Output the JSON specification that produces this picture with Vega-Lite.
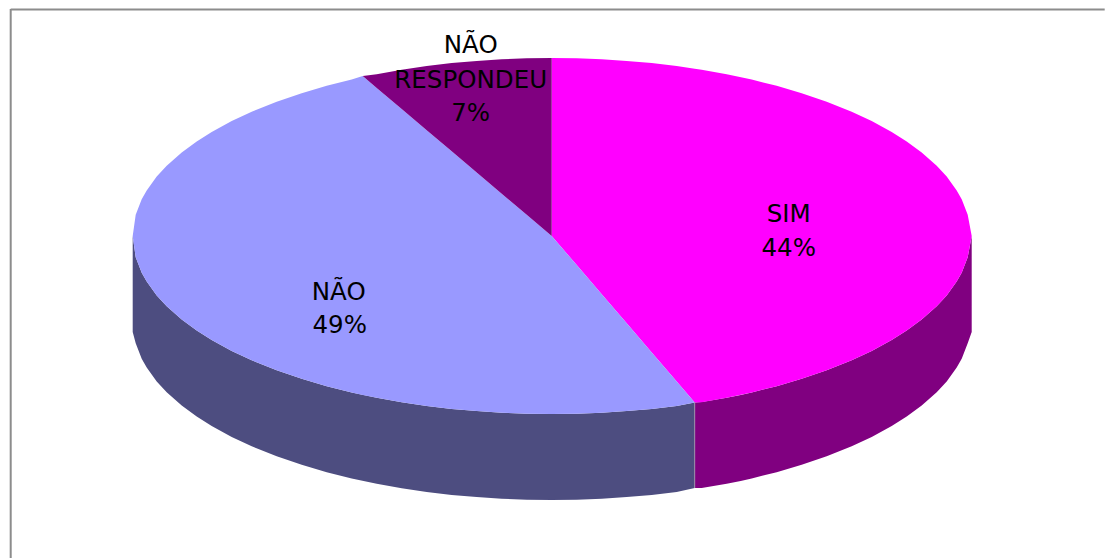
{"$schema":"https://vega.github.io/schema/vega-lite/v6.json","width":1106,"height":559,"padding":0,"autosize":{"type":"fit","contains":"padding"},"background":"#ffffff","config":{"view":{"stroke":null}},
"datasets":{"slices":[
{"part":"side SIM","x":694,"y":402.5,"y2":488},{"part":"side SIM","x":701,"y":402,"y2":488},{"part":"side SIM","x":726,"y":397.7,"y2":483.7},{"part":"side SIM","x":740,"y":394.9,"y2":480.9},{"part":"side SIM","x":751,"y":392.4,"y2":478.4},{"part":"side SIM","x":776,"y":386.2,"y2":472.2},{"part":"side SIM","x":801,"y":378.8,"y2":464.8},{"part":"side SIM","x":826,"y":370.3,"y2":456.3},{"part":"side SIM","x":851,"y":360.3,"y2":446.3},{"part":"side SIM","x":871,"y":350.9,"y2":436.9},{"part":"side SIM","x":891,"y":340,"y2":426},{"part":"side SIM","x":906,"y":330.6,"y2":416.6},{"part":"side SIM","x":921,"y":319.5,"y2":405.5},{"part":"side SIM","x":936,"y":306.2,"y2":392.2},{"part":"side SIM","x":946,"y":295.4,"y2":381.4},{"part":"side SIM","x":956,"y":281.6,"y2":367.6},{"part":"side SIM","x":961,"y":272.7,"y2":358.7},{"part":"side SIM","x":967,"y":257.3,"y2":343.3},{"part":"side SIM","x":971,"y":236,"y2":332},
{"part":"side NAO","x":132,"y":236,"y2":332},{"part":"side NAO","x":135,"y":257.3,"y2":343.3},{"part":"side NAO","x":141,"y":272.7,"y2":358.7},{"part":"side NAO","x":146,"y":281.6,"y2":367.6},{"part":"side NAO","x":156,"y":295.4,"y2":381.4},{"part":"side NAO","x":166,"y":306.2,"y2":392.2},{"part":"side NAO","x":181,"y":319.5,"y2":405.5},{"part":"side NAO","x":196,"y":330.6,"y2":416.6},{"part":"side NAO","x":211,"y":340,"y2":426},{"part":"side NAO","x":231,"y":350.9,"y2":436.9},{"part":"side NAO","x":251,"y":360.3,"y2":446.3},{"part":"side NAO","x":276,"y":370.3,"y2":456.3},{"part":"side NAO","x":301,"y":378.8,"y2":464.8},{"part":"side NAO","x":326,"y":386.2,"y2":472.2},{"part":"side NAO","x":351,"y":392.4,"y2":478.4},{"part":"side NAO","x":376,"y":397.7,"y2":483.7},{"part":"side NAO","x":401,"y":402.2,"y2":488.2},{"part":"side NAO","x":426,"y":405.9,"y2":491.9},{"part":"side NAO","x":451,"y":408.9,"y2":494.9},{"part":"side NAO","x":476,"y":411.1,"y2":497.1},{"part":"side NAO","x":501,"y":412.7,"y2":498.7},{"part":"side NAO","x":526,"y":413.7,"y2":499.7},{"part":"side NAO","x":551,"y":414,"y2":500},{"part":"side NAO","x":576,"y":413.7,"y2":499.7},{"part":"side NAO","x":601,"y":412.7,"y2":498.7},{"part":"side NAO","x":626,"y":411.1,"y2":497.1},{"part":"side NAO","x":651,"y":408.9,"y2":494.9},{"part":"side NAO","x":676,"y":405.9,"y2":491.9},{"part":"side NAO","x":694,"y":402.5,"y2":488},
{"part":"SIM","x":551,"y":58,"y2":236},{"part":"SIM","x":576,"y":58.3,"y2":265.1},{"part":"SIM","x":601,"y":59.3,"y2":294.2},{"part":"SIM","x":626,"y":60.9,"y2":323.3},{"part":"SIM","x":651,"y":63.1,"y2":352.4},{"part":"SIM","x":676,"y":66.1,"y2":381.5},{"part":"SIM","x":694,"y":68.7,"y2":402.5},{"part":"SIM","x":701,"y":69.8,"y2":402.2},{"part":"SIM","x":726,"y":74.3,"y2":397.7},{"part":"SIM","x":751,"y":79.6,"y2":392.4},{"part":"SIM","x":776,"y":85.8,"y2":386.2},{"part":"SIM","x":801,"y":93.2,"y2":378.8},{"part":"SIM","x":826,"y":101.7,"y2":370.3},{"part":"SIM","x":851,"y":111.7,"y2":360.3},{"part":"SIM","x":871,"y":121.1,"y2":350.9},{"part":"SIM","x":891,"y":132,"y2":340},{"part":"SIM","x":906,"y":141.4,"y2":330.6},{"part":"SIM","x":921,"y":152.5,"y2":319.5},{"part":"SIM","x":936,"y":165.8,"y2":306.2},{"part":"SIM","x":946,"y":176.6,"y2":295.4},{"part":"SIM","x":956,"y":190.4,"y2":281.6},{"part":"SIM","x":961,"y":199.3,"y2":272.7},{"part":"SIM","x":967,"y":214.7,"y2":257.3},{"part":"SIM","x":971,"y":236,"y2":236},
{"part":"NAO","x":132,"y":236,"y2":236},{"part":"NAO","x":135,"y":214.7,"y2":257.3},{"part":"NAO","x":141,"y":199.3,"y2":272.7},{"part":"NAO","x":146,"y":190.4,"y2":281.6},{"part":"NAO","x":156,"y":176.6,"y2":295.4},{"part":"NAO","x":166,"y":165.8,"y2":306.2},{"part":"NAO","x":181,"y":152.5,"y2":319.5},{"part":"NAO","x":196,"y":141.4,"y2":330.6},{"part":"NAO","x":211,"y":132,"y2":340},{"part":"NAO","x":231,"y":121.1,"y2":350.9},{"part":"NAO","x":251,"y":111.7,"y2":360.3},{"part":"NAO","x":276,"y":101.7,"y2":370.3},{"part":"NAO","x":301,"y":93.2,"y2":378.8},{"part":"NAO","x":326,"y":85.8,"y2":386.2},{"part":"NAO","x":351,"y":79.6,"y2":392.4},{"part":"NAO","x":362,"y":76,"y2":394.9},{"part":"NAO","x":376,"y":87.9,"y2":397.7},{"part":"NAO","x":401,"y":109,"y2":402.2},{"part":"NAO","x":426,"y":130.2,"y2":405.9},{"part":"NAO","x":451,"y":151.3,"y2":408.9},{"part":"NAO","x":476,"y":172.5,"y2":411.1},{"part":"NAO","x":501,"y":193.7,"y2":412.7},{"part":"NAO","x":526,"y":214.8,"y2":413.7},{"part":"NAO","x":551,"y":236,"y2":414},{"part":"NAO","x":576,"y":265.1,"y2":413.7},{"part":"NAO","x":601,"y":294.2,"y2":412.7},{"part":"NAO","x":626,"y":323.3,"y2":411.1},{"part":"NAO","x":651,"y":352.4,"y2":408.9},{"part":"NAO","x":676,"y":381.5,"y2":405.9},{"part":"NAO","x":694,"y":402.5,"y2":402.5},
{"part":"NAO RESPONDEU","x":362,"y":76,"y2":76},{"part":"NAO RESPONDEU","x":376,"y":74.3,"y2":87.9},{"part":"NAO RESPONDEU","x":401,"y":69.8,"y2":109},{"part":"NAO RESPONDEU","x":426,"y":66.1,"y2":130.2},{"part":"NAO RESPONDEU","x":451,"y":63.1,"y2":151.3},{"part":"NAO RESPONDEU","x":476,"y":60.9,"y2":172.5},{"part":"NAO RESPONDEU","x":501,"y":59.3,"y2":193.7},{"part":"NAO RESPONDEU","x":526,"y":58.3,"y2":214.8},{"part":"NAO RESPONDEU","x":551,"y":58,"y2":236}
],
"labels":[{"text":"SIM","x":788,"y":215},{"text":"44%","x":788,"y":249},{"text":"NÃO","x":338,"y":293},{"text":"49%","x":339,"y":326},{"text":"NÃO","x":470,"y":46},{"text":"RESPONDEU","x":470,"y":81},{"text":"7%","x":470,"y":114}],
"rules":[{"x":10,"x2":10,"y":9,"y2":558},{"x":10,"x2":1104,"y":9.5,"y2":9.5}],
"seam":[{"x":694,"y":402.5,"y2":488}]},
"layer":[
{"data":{"name":"rules"},"mark":{"type":"rule","color":"#8c8c8c","strokeWidth":2},"encoding":{"x":{"field":"x","type":"quantitative","scale":{"domain":[-0.7,1105.3],"nice":false,"zero":false},"axis":null},"x2":{"field":"x2"},"y":{"field":"y","type":"quantitative","scale":{"domain":[559,0],"nice":false,"zero":false},"axis":null},"y2":{"field":"y2"}}},
{"data":{"name":"slices"},"mark":{"type":"area","interpolate":"linear","orient":"vertical"},"encoding":{"x":{"field":"x","type":"quantitative","scale":{"domain":[-0.7,1105.3],"nice":false,"zero":false},"axis":null},"y":{"field":"y","type":"quantitative","stack":null,"scale":{"domain":[559,0],"nice":false,"zero":false},"axis":null},"y2":{"field":"y2"},"color":{"field":"part","type":"nominal","legend":null,"scale":{"domain":["side SIM","side NAO","SIM","NAO","NAO RESPONDEU"],"range":["#800080","#4d4d80","#ff00ff","#9999ff","#800080"]}}}},
{"data":{"name":"seam"},"mark":{"type":"rule","color":"#9a8ca8","strokeWidth":1},"encoding":{"x":{"field":"x","type":"quantitative","scale":{"domain":[-0.7,1105.3],"nice":false,"zero":false},"axis":null},"y":{"field":"y","type":"quantitative","scale":{"domain":[559,0],"nice":false,"zero":false},"axis":null},"y2":{"field":"y2"}}},
{"data":{"name":"labels"},"mark":{"type":"text","font":"DejaVu Sans","fontSize":24.5,"color":"#000000","align":"center","baseline":"middle"},"encoding":{"x":{"field":"x","type":"quantitative","scale":{"domain":[-0.7,1105.3],"nice":false,"zero":false},"axis":null},"y":{"field":"y","type":"quantitative","scale":{"domain":[559,0],"nice":false,"zero":false},"axis":null},"text":{"field":"text","type":"nominal"}}}
]}
